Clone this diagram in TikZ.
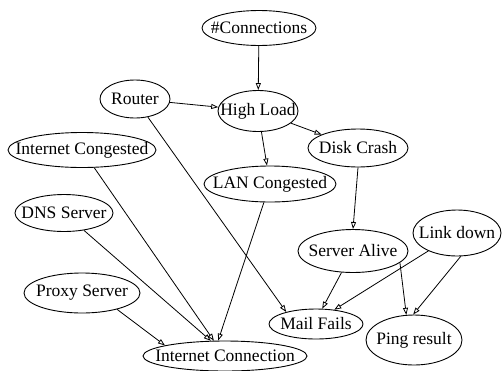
\documentclass[tikz,border=0pt]{standalone}
\usepackage{fontspec}
\setmainfont{Liberation Serif}
\usetikzlibrary{shapes.geometric,arrows.meta}
\begin{document}
\begin{tikzpicture}[x=1pt,y=-1pt,
  ell/.style={draw,ellipse,line width=0.9pt,inner sep=0pt},
  lbl/.style={font=\fontsize{17.5}{20}\selectfont,inner sep=0pt},
  edge/.style={draw,line width=0.8pt,-{Triangle[open,length=7pt,width=5pt]}}]
\useasboundingbox (0,0) rectangle (502,370);
\newcommand\enode[6]{%
  \node[ell,minimum width=#4,minimum height=#5] (#1) at (#2,#3) {};
  \node[lbl] at (#1) {#6};}
\enode{conn}{259}{28}{114}{35}{\#Connections}
\enode{router}{135}{99}{70}{38}{Router}
\enode{high}{258}{111}{80}{41}{High Load}
\enode{disk}{358}{148}{100}{38}{Disk Crash}
\enode{icong}{82}{150}{148}{35}{Internet Congested}
\enode{lan}{270}{184}{132}{36}{LAN Congested}
\enode{dns}{64}{213}{98}{37}{DNS Server}
\enode{proxy}{82}{293}{116}{40}{Proxy Server}
\enode{iconn}{225}{356}{164}{30}{Internet Connection}
\enode{alive}{353}{251}{110}{43}{Server Alive}
\enode{link}{457}{233}{88}{46}{Link down}
\enode{mail}{316}{324}{94}{30}{Mail Fails}
\enode{ping}{414}{340}{96}{50}{Ping result}
\draw[edge] (conn) -- (high);
\draw[edge] (router) -- (high);
\draw[edge] (high) -- (disk);
\draw[edge] (high) -- (lan);
\draw[edge] (router) -- (mail.158);
\draw[edge] (icong) -- (iconn.126);
\draw[edge] (dns) -- (iconn.133);
\draw[edge] (proxy.-25) -- (iconn.170);
\draw[edge] (lan) -- (iconn.114);
\draw[edge] (disk.-90) -- (alive.90);
\draw[edge] (alive) -- (mail.68);
\draw[edge] (alive.-14) -- (ping.107);
\draw[edge] (link) -- (mail.38);
\draw[edge] (link.-81) -- (ping.92);
\end{tikzpicture}
\end{document}
